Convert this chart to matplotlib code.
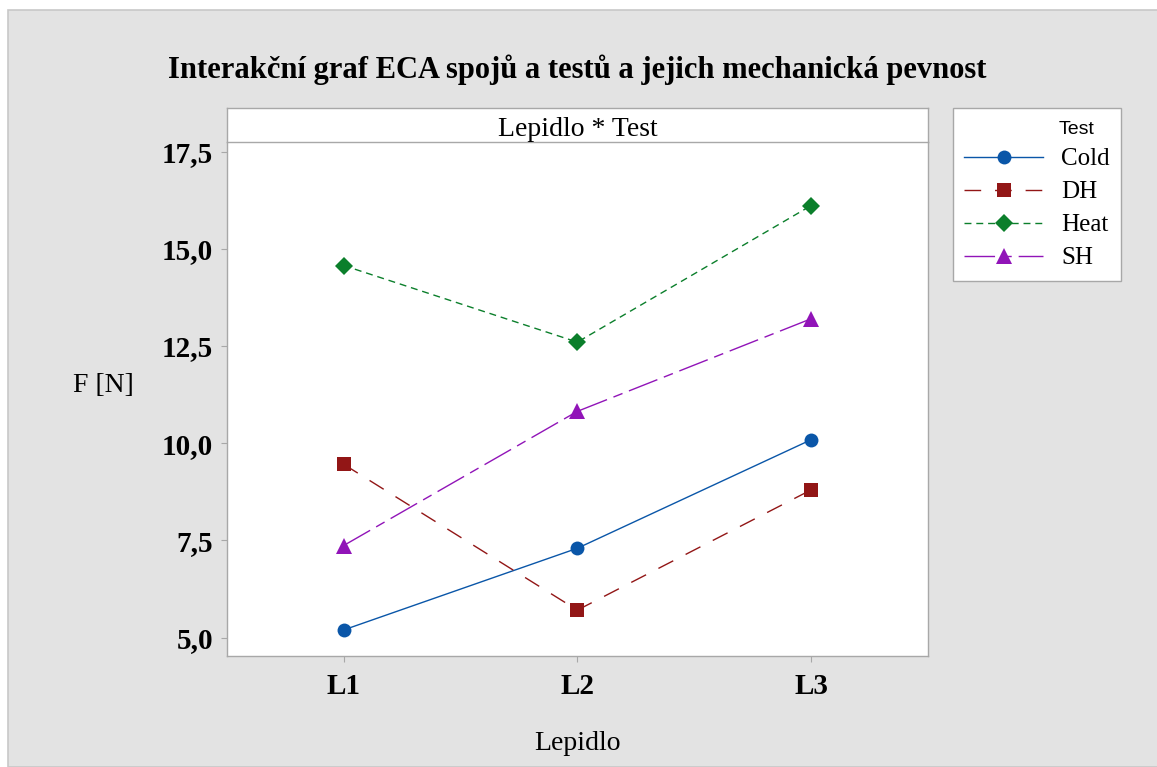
import matplotlib.pyplot as plt
from matplotlib.patches import Rectangle

# Mean strength per adhesive (Lepidlo) and test condition
lepidla = ["L1", "L2", "L3"]
cold = [5.20, 7.30, 10.09]
dh = [9.46, 5.71, 8.80]
heat = [14.57, 12.60, 16.11]
sh = [7.37, 10.82, 13.20]

y_ticks = [5.0, 7.5, 10.0, 12.5, 15.0, 17.5]
y_tick_labels = ["5,0", "7,5", "10,0", "12,5", "15,0", "17,5"]

series = [
    ("Cold", cold, "#0a56a8", "o", "-", 10),
    ("DH", dh, "#921616", "s", (0, (12, 10)), 10),
    ("Heat", heat, "#0b7f2b", "D", (0, (5, 3.5)), 9.5),
    ("SH", sh, "#9114b8", "^", (0, (22, 5, 7, 5)), 12),
]

BG = "#e3e3e3"
EDGE = "#a8a8a8"
SERIF = "Liberation Serif"

fig = plt.figure(figsize=(11.57, 7.67), dpi=100)
fig.patch.set_facecolor("white")
fig.patches.append(
    Rectangle((8 / 1157, 0), 1, 1 - 10 / 767, transform=fig.transFigure,
              facecolor=BG, edgecolor="#c8c8c8", linewidth=1.2, zorder=-5)
)

ax = fig.add_axes([0.196, 0.1447, 0.606, 0.6704])
ax.set_facecolor("white")

x = list(range(1, len(lepidla) + 1))
for name, values, color, marker, style, size in series:
    ax.plot(x, values, color=color, linestyle=style, linewidth=1.0,
            marker=marker, markersize=size, markeredgewidth=0,
            label=name)

ax.set_xlim(0.5, 3.5)
ax.set_ylim(4.53, 17.75)
ax.set_xticks(x)
ax.set_xticklabels(lepidla, fontfamily=SERIF, fontweight="bold", fontsize=21)
ax.set_yticks(y_ticks)
ax.set_yticklabels(y_tick_labels, fontfamily=SERIF, fontweight="bold", fontsize=21)
ax.tick_params(direction="out", length=4, width=0.8, color=EDGE, pad=6)
ax.tick_params(axis="x", pad=8)

for side, spine in ax.spines.items():
    spine.set_color(EDGE)
    spine.set_linewidth(1.0)
ax.spines["top"].set_visible(False)

ax.set_xlabel("Lepidlo", fontfamily=SERIF, fontsize=20)
ax.xaxis.set_label_coords(0.5, -0.145)
ax.set_ylabel("F [N]", fontfamily=SERIF, fontsize=20, rotation=0,
              ha="center", va="center")
ax.yaxis.set_label_coords(-0.176, 0.527)

# Panel header strip above the plot area
strip = fig.add_axes([0.196, 0.8149, 0.606, 0.0443])
strip.set_facecolor("white")
strip.set_xticks([])
strip.set_yticks([])
for spine in strip.spines.values():
    spine.set_color(EDGE)
    spine.set_linewidth(1.0)
strip.text(0.5, 0.36, "Lepidlo * Test", ha="center", va="center",
           fontfamily=SERIF, fontsize=20, transform=strip.transAxes)

fig.text(0.499, 1 - 70 / 767,
         "Interakční graf ECA spojů a testů a jejich mechanická pevnost",
         ha="center", va="center", fontfamily=SERIF, fontweight="bold",
         fontsize=22)

handles, labels = ax.get_legend_handles_labels()
leg = fig.legend(handles, labels, loc="upper left",
                 bbox_to_anchor=(953 / 1157, 1 - 108 / 767),
                 title=" ", frameon=True, fancybox=False, framealpha=1,
                 borderaxespad=0,
                 prop={"family": SERIF, "size": 18},
                 handlelength=3.15, handletextpad=0.72,
                 labelspacing=0.42, borderpad=0.45)
leg.get_frame().set_edgecolor(EDGE)
leg.get_frame().set_linewidth(1.0)
leg.get_title().set_fontsize(13)

# Legend heading sits over the label column
fig.text(1059 / 1157, 1 - 129 / 767, "Test", ha="left", va="center",
         fontfamily="Liberation Sans", fontsize=14, zorder=10)

fig.savefig("out.png", dpi=100, facecolor=fig.get_facecolor())
